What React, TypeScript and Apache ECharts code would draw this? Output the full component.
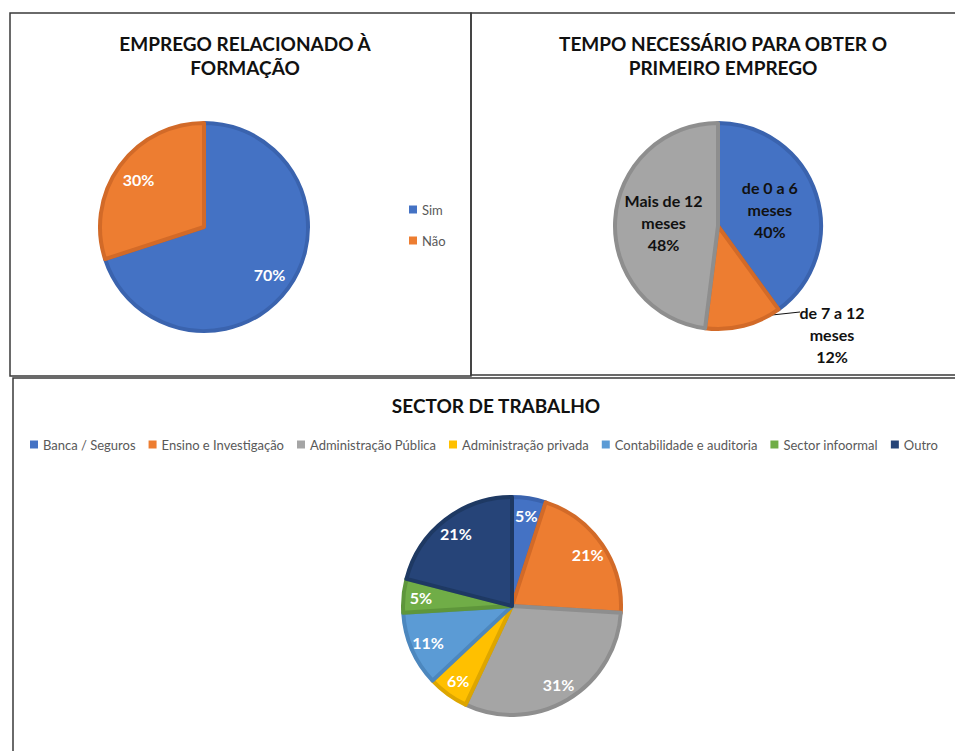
import React, { useEffect, useRef } from "react";
import * as echarts from "echarts";

const formacaoCategories = ["Sim", "Não"];
const formacaoValues = [70, 30];

const tempoCategories = ["de 0 a 6 meses", "de 7 a 12 meses", "Mais de 12 meses"];
const tempoValues = [40, 12, 48];

const sectorCategories = [
  "Banca / Seguros",
  "Ensino e Investigação",
  "Administração Pública",
  "Administração privada",
  "Contabilidade e auditoria",
  "Sector infoormal",
  "Outro",
];
const sectorValues = [5, 21, 31, 6, 11, 5, 21];

const chartTitles = [
  "EMPREGO RELACIONADO À\nFORMAÇÃO",
  "TEMPO NECESSÁRIO PARA OBTER O\nPRIMEIRO EMPREGO",
  "SECTOR DE TRABALHO",
];

const palette = ["#4472C4", "#ED7D31", "#A5A5A5", "#FFC000", "#5B9BD5", "#70AD47", "#264478"];
const borderPalette = ["#3A63AE", "#D26A28", "#8E8E8E", "#DDA600", "#4C87BE", "#5E963B", "#1E3963"];

const FONT = "Lato";

function pieData(names: string[], values: number[], extra?: (i: number) => any) {
  return names.map((name, i) => ({
    name,
    value: values[i],
    itemStyle: { color: palette[i], borderColor: borderPalette[i], borderWidth: 4 },
    ...(extra ? extra(i) : {}),
  }));
}

function labelOverlay(names: string[], values: number[], center: any, r0: number, r: number, fontSize: number) {
  return {
    type: "pie",
    silent: true,
    center,
    radius: [r0, r],
    startAngle: 90,
    clockwise: true,
    itemStyle: { color: "rgba(0,0,0,0)", borderWidth: 0 },
    emphasis: { disabled: true },
    label: {
      show: true,
      position: "inside",
      formatter: (p: any) => `${p.value}%`,
      color: "#ffffff",
      fontFamily: FONT,
      fontWeight: "bold",
      fontSize,
    },
    labelLine: { show: false },
    data: names.map((name, i) => ({ name, value: values[i] })),
    z: 3,
  };
}

export default function App() {
  const ref = useRef<HTMLDivElement>(null);
  useEffect(() => {
    if (!ref.current) return;
    const chart = echarts.init(ref.current, null, { renderer: "svg" });
    const titleStyle = {
      fontFamily: FONT,
      fontWeight: "bold",
      fontSize: 19,
      color: "#111111",
      lineHeight: 24,
    };
    const option: any = {
      animation: false,
      backgroundColor: "#ffffff",
      title: [
        { text: chartTitles[0], left: 240, top: 26, textAlign: "center", textStyle: titleStyle },
        { text: chartTitles[1], left: 718, top: 26, textAlign: "center", textStyle: titleStyle },
        { text: chartTitles[2], left: 491, top: 388, textAlign: "center", textStyle: { ...titleStyle, fontSize: 19 } },
      ],
      legend: [
        {
          orient: "vertical",
          left: 409,
          top: 203,
          padding: 0,
          itemWidth: 8,
          itemHeight: 8,
          itemGap: 18,
          icon: "rect",
          textStyle: { fontFamily: FONT, fontSize: 13, color: "#595959" },
          data: formacaoCategories.map((n, i) => ({ name: n, itemStyle: { color: palette[i], borderWidth: 0 } })),
        },
        {
          orient: "horizontal",
          left: 30,
          top: 438,
          padding: 0,
          itemWidth: 8,
          itemHeight: 8,
          itemGap: 13,
          icon: "rect",
          textStyle: { fontFamily: FONT, fontSize: 13, color: "#595959" },
          data: sectorCategories.map((n, i) => ({ name: n, itemStyle: { color: palette[i], borderWidth: 0 } })),
        },
      ],
      graphic: [
        { type: "rect", shape: { x: 10, y: 13, width: 461, height: 363 }, style: { fill: "none", stroke: "#3a3a3a", lineWidth: 1.5 }, z: 10 },
        { type: "rect", shape: { x: 471, y: 13, width: 500, height: 362 }, style: { fill: "none", stroke: "#3a3a3a", lineWidth: 1.5 }, z: 10 },
        { type: "rect", shape: { x: 13, y: 378, width: 960, height: 400 }, style: { fill: "none", stroke: "#3a3a3a", lineWidth: 1.5 }, z: 10 },
      ],
      series: [
        {
          type: "pie",
          center: [204, 227],
          radius: [0, 104],
          startAngle: 90,
          clockwise: true,
          label: { show: false },
          labelLine: { show: false },
          emphasis: { disabled: true },
          data: pieData(formacaoCategories, formacaoValues),
        },
        labelOverlay(formacaoCategories, formacaoValues, [204, 227], 50, 106, 16),
        {
          type: "pie",
          center: [718, 226],
          radius: [0, 103],
          startAngle: 90,
          clockwise: true,
          emphasis: { disabled: true },
          label: {
            show: true,
            position: "inside",
            formatter: (p: any) => `${p.name.replace(" meses", "\nmeses")}\n${p.value}%`,
            color: "#111111",
            fontFamily: FONT,
            fontWeight: "bold",
            fontSize: 16,
            lineHeight: 22,
          },
          labelLine: { show: false },
          labelLayout: (p: any) =>
            p.dataIndex === 1
              ? {
                  x: 832,
                  y: 334,
                  align: "center",
                  verticalAlign: "middle",
                  labelLinePoints: [
                    [744, 323],
                    [772, 315],
                    [800, 312],
                  ],
                }
              : {},
          data: pieData(tempoCategories, tempoValues, (i) =>
            i === 1
              ? {
                  label: { position: "outside" },
                  labelLine: { show: true, length: 12, length2: 30, lineStyle: { color: "#111111", width: 1 } },
                }
              : {}
          ),
        },
        {
          type: "pie",
          center: [512, 606],
          radius: [0, 109],
          startAngle: 90,
          clockwise: true,
          label: { show: false },
          labelLine: { show: false },
          emphasis: { disabled: true },
          data: pieData(sectorCategories, sectorValues),
        },
        labelOverlay(sectorCategories, sectorValues, [512, 606], 66, 111, 16),
      ],
    };
    chart.setOption(option);
    return () => chart.dispose();
  }, []);
  return (
    <div
      ref={ref}
      style={{ position: "absolute", left: 0, top: 0, width: 955, height: 751, background: "#fff" }}
    />
  );
}
